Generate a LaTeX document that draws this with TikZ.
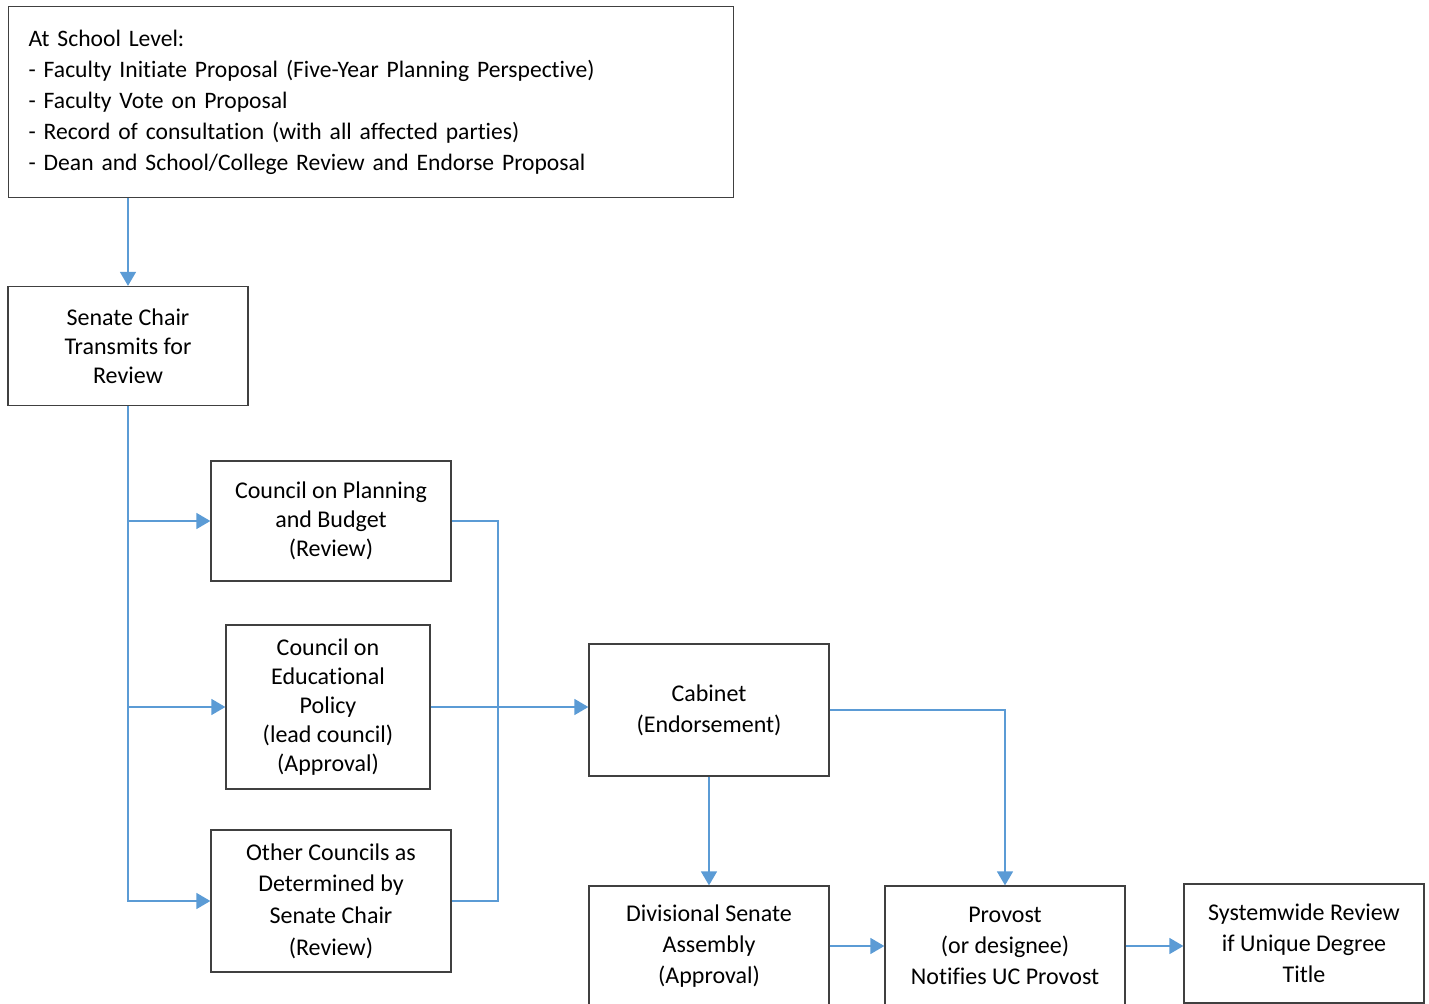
\documentclass[tikz,border=0pt]{standalone}
\usepackage{fontspec}
\setmainfont{Carlito}[Ligatures=NoCommon]
\usetikzlibrary{arrows.meta,positioning}
\definecolor{flowblue}{HTML}{5B9BD5}
\definecolor{boxgray}{HTML}{404040}
\tikzstyle{block} = [rectangle, draw=boxgray, line width=0.65pt, align=center, inner sep=0pt, font=\fontsize{12}{15.5}\selectfont]
\tikzstyle{tight} = [font=\fontsize{12}{14.5}\selectfont]
\tikzstyle{flow} = [draw=flowblue, line width=0.8pt, -{Triangle[width=8pt,length=7pt]}]
\tikzstyle{line} = [draw=flowblue, line width=0.8pt]

\begin{document}
\begin{tikzpicture}[x=0.5pt,y=-0.5pt]
    \useasboundingbox (0,0) rectangle (1429,1004);
    \clip (0,0) rectangle (1429,1004);
    \node [block, anchor=north west, align=left, text width=342.5pt, inner xsep=10pt, minimum height=95.5pt, font=\fontsize{11.8}{15.5}\selectfont] (school) at (8,6) {At School Level:\\- Faculty Initiate Proposal (Five-Year Planning Perspective)\\- Faculty Vote on Proposal\\- Record of consultation (with all affected parties)\\- Dean and School/College Review and Endorse Proposal};
    \node [block, tight, minimum width=120pt, minimum height=59.5pt] (senate) at (128,346) {Senate Chair\\Transmits for\\Review};
    \node [block, tight, minimum width=120pt, minimum height=60pt] (cpb) at (331,521) {Council on Planning\\and Budget\\(Review)};
    \node [block, tight, minimum width=102pt, minimum height=82pt] (cep) at (328,707) {Council on\\Educational\\Policy\\(lead council)\\(Approval)};
    \node [block, font=\fontsize{12}{15.8}\selectfont, minimum width=120pt, minimum height=71pt] (other) at (331,901) {Other Councils as\\Determined by\\Senate Chair\\(Review)};
    \node [block, minimum width=120pt, minimum height=66pt] (cabinet) at (709,710) {Cabinet\\(Endorsement)};
    \node [block, minimum width=120pt, minimum height=60pt] (divisional) at (709,946) {Divisional Senate\\Assembly\\(Approval)};
    \node [block, minimum width=120pt, minimum height=60pt] (provost) at (1005,946) {Provost\\(or designee)\\Notifies UC Provost};
    \node [block, minimum width=120pt, minimum height=59.5pt] (systemwide) at (1304,943.5) {Systemwide Review\\if Unique Degree\\Title};
    \coordinate (bus) at (498,0);

    \draw[flow] (senate.north |- school.south) -- (senate.north);
    \draw[flow] (senate.south) |- (other.west);
    \draw[flow] (senate.south |- cpb.west) -- (cpb.west);
    \draw[flow] (senate.south |- cep.west) -- (cep.west);
    \draw[line] (cpb.east) -| (bus |- other.east) -- (other.east);
    \draw[flow] (cep.east) -- (cep.east -| cabinet.west);
    \draw[flow] (cabinet.south) -- (divisional.north);
    \draw[flow] (cabinet.east) -| (provost.north);
    \draw[flow] (divisional.east) -- (provost.west);
    \draw[flow] (provost.east) -- (provost.east -| systemwide.west);
\end{tikzpicture}
\end{document}
